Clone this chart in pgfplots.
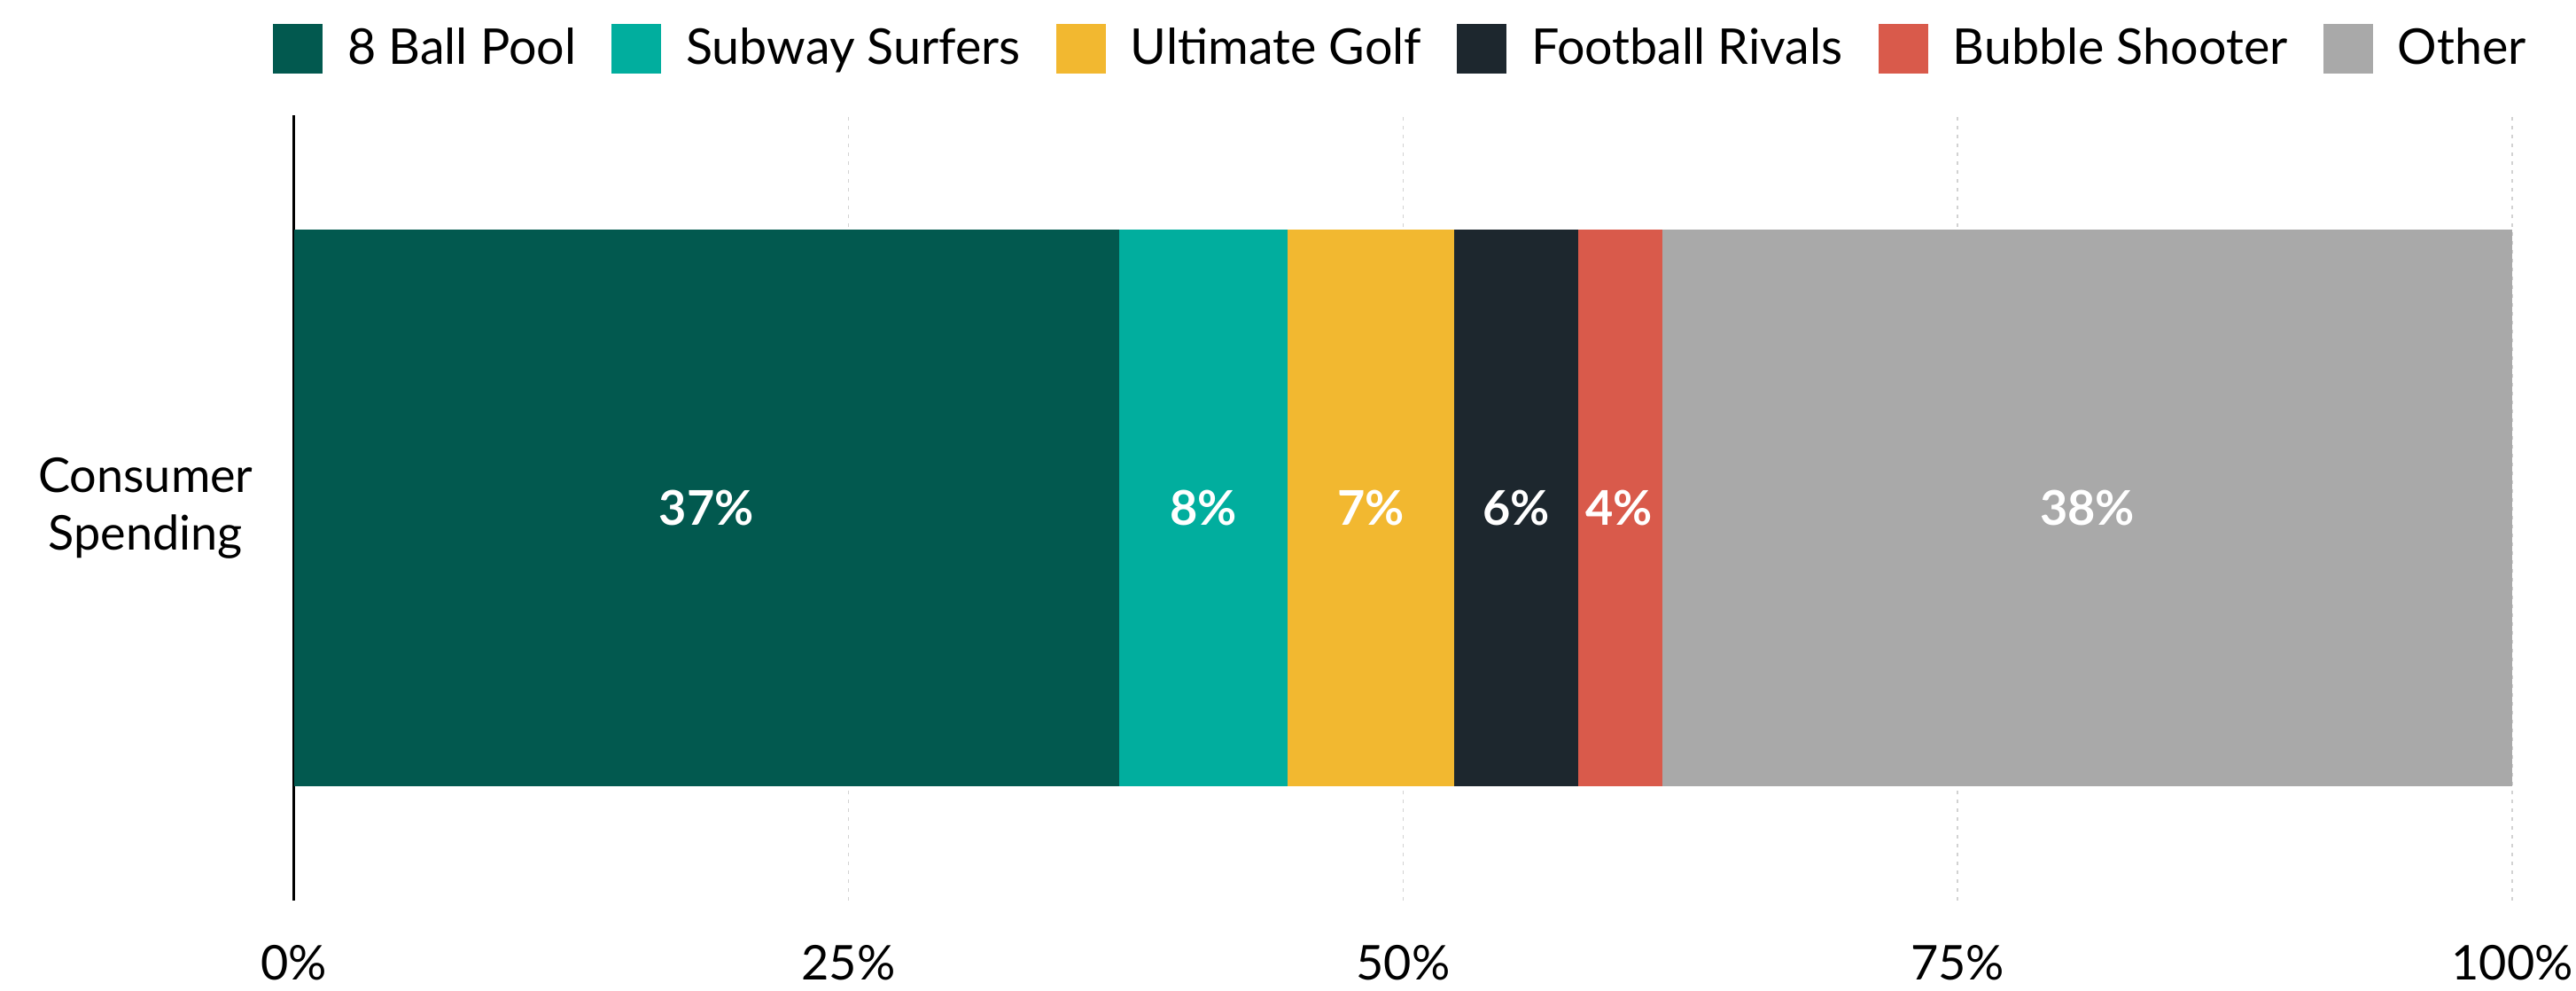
\documentclass[border=0pt]{standalone}
\usepackage{pgfplots}
\pgfplotsset{compat=1.18}
\usepackage{fontspec}
\setmainfont{Lato}
\definecolor{cA}{HTML}{02594F}
\definecolor{cB}{HTML}{01AE9E}
\definecolor{cC}{HTML}{F2B830}
\definecolor{cD}{HTML}{1D272E}
\definecolor{cE}{HTML}{D95A4B}
\definecolor{cF}{HTML}{A9A9A9}
\newcommand{\ff}{\fontsize{13.5bp}{16.25bp}\selectfont}
\newcommand{\fl}{\fontsize{13.9bp}{16.5bp}\selectfont}
\begin{document}
\begin{tikzpicture}
\begin{axis}[name=ax,
  xbar stacked, scale only axis, width=625.8bp, height=221.5bp,
  xmin=0, xmax=100, ymin=-1, ymax=1, bar width=156.8bp,
  ytick={0}, yticklabels={{Consumer\\Spending}},
  yticklabel style={align=center, font=\ff, xshift=-8bp},
  xtick={0,25,50,75,100},
  xticklabel={\pgfmathprintnumber{\tick}\%},
  xticklabel style={font=\ff, yshift=-9bp},
  /pgf/number format/assume math mode=true,
  major tick length=0pt, tick style={draw=none},
  xmajorgrids, grid style={gray!35, dash pattern=on 1bp off 1.5bp, line width=0.4bp},
  axis x line*=bottom, axis y line*=left,
  x axis line style={draw=none},
  y axis line style={-, black, line width=0.8bp},
  legend columns=6,
  legend style={draw=none, at={(0.5,1.085)}, anchor=center, font=\fl,
    /tikz/every odd column/.append style={column sep=5bp},
    /tikz/every even column/.append style={column sep=8bp}},
  legend image code/.code={\fill[#1] (0bp,-7bp) rectangle (14bp,7bp);},
]
\addplot[fill=cA, draw=none] coordinates {(37.2,0)};
\addlegendentry{8 Ball Pool}
\addplot[fill=cB, draw=none] coordinates {(7.6,0)};
\addlegendentry{Subway Surfers}
\addplot[fill=cC, draw=none] coordinates {(7.5,0)};
\addlegendentry{Ultimate Golf}
\addplot[fill=cD, draw=none] coordinates {(5.6,0)};
\addlegendentry{Football Rivals}
\addplot[fill=cE, draw=none] coordinates {(3.8,0)};
\addlegendentry{Bubble Shooter}
\addplot[fill=cF, draw=none] coordinates {(38.3,0)};
\addlegendentry{Other}
\end{axis}
\begin{axis}[scale only axis, width=625.8bp, height=221.5bp,
  xmin=0, xmax=100, ymin=-1, ymax=1, hide axis]
\addplot[draw=none, mark=none, nodes near coords, point meta=explicit symbolic,
  nodes near coords style={anchor=center, font=\ff\bfseries, text=white}]
  coordinates {(18.6,0) [37\%] (41.0,0) [8\%] (48.55,0) [7\%] (55.1,0) [6\%] (59.75,0) [4\%] (80.85,0) [38\%]};
\end{axis}
\pgfresetboundingbox
\path ([xshift=-82.9bp, yshift=-25.25bp]ax.south west) rectangle ([xshift=18bp, yshift=32.5bp]ax.north east);
\end{tikzpicture}
\end{document}
